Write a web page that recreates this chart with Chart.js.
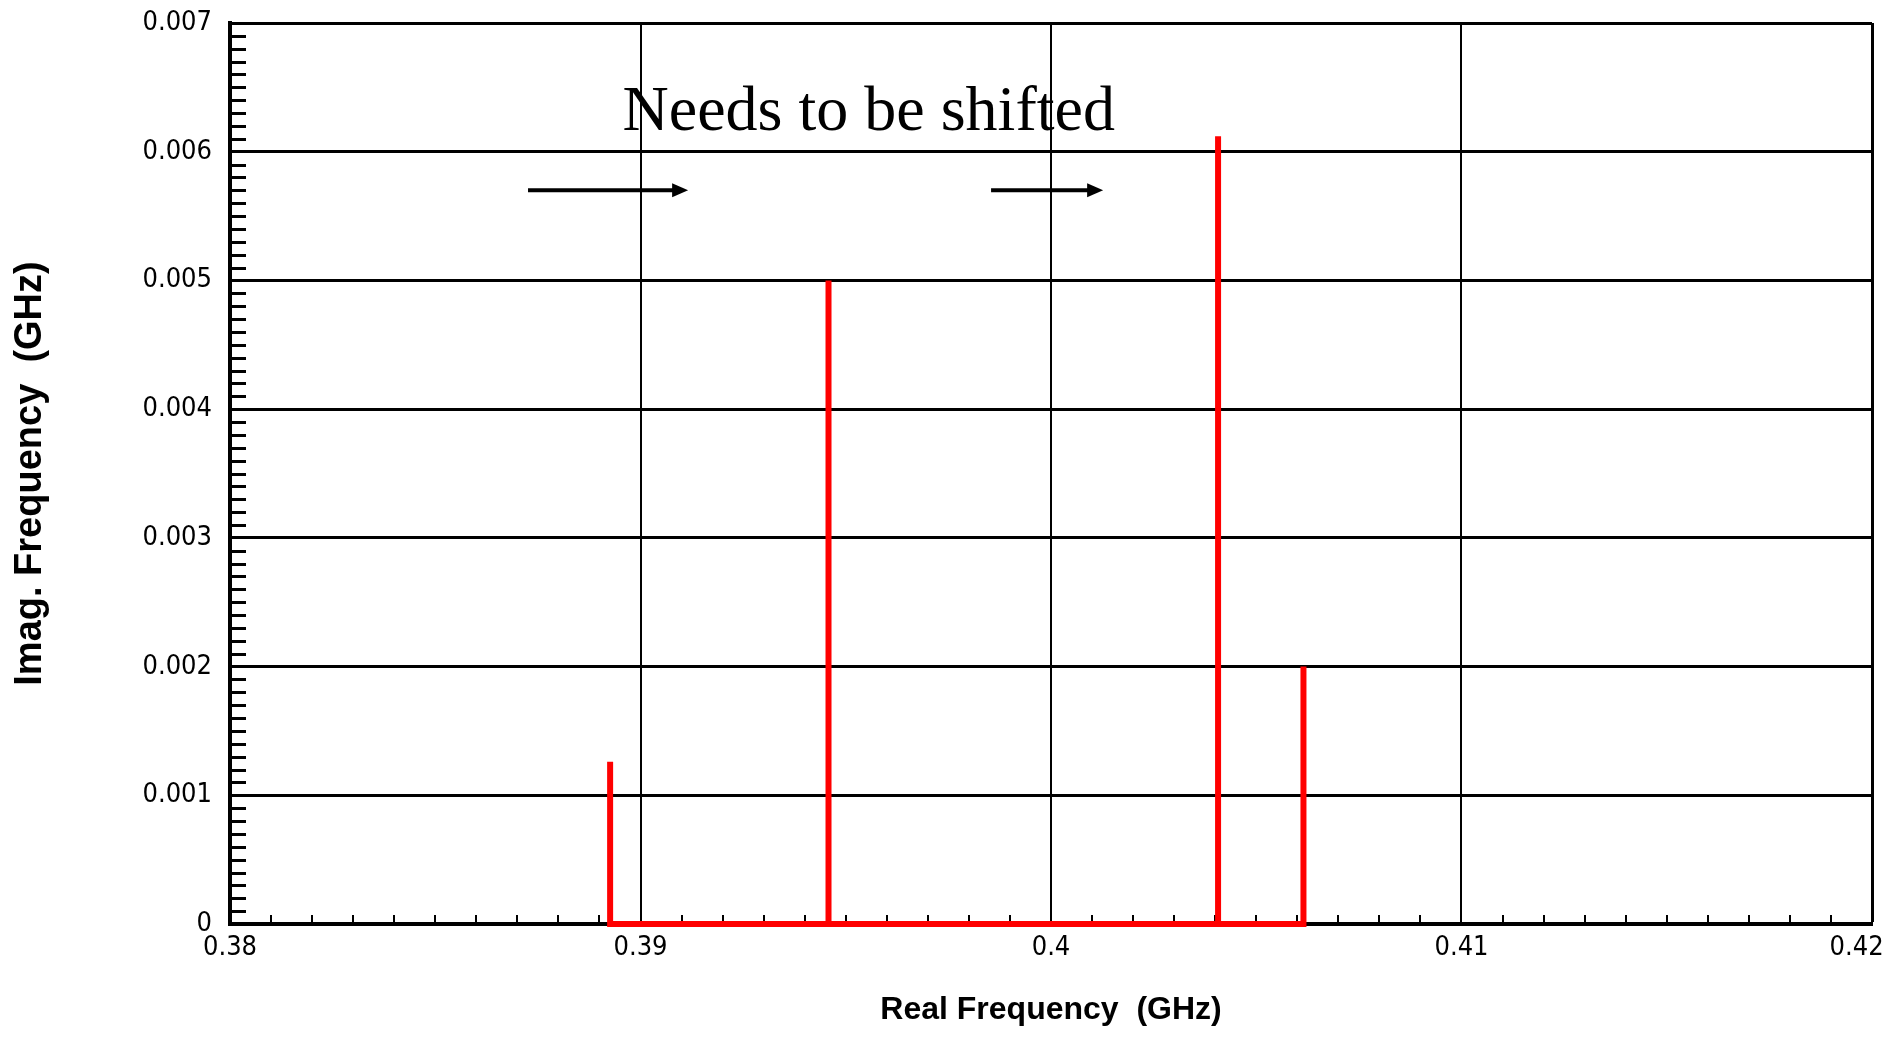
<!DOCTYPE html>
<html>
<head>
<meta charset="utf-8">
<title>Imag. Frequency vs Real Frequency</title>
<script src="https://cdn.jsdelivr.net/npm/chart.js@4.4.1/dist/chart.umd.min.js"></script>
<style>
  html, body { margin: 0; padding: 0; background: #fff; }
  #plot { display: block; }
</style>
</head>
<body>
<canvas id="plot" width="1890" height="1039"></canvas>
<script>
// modes (GHz)
const realFreq = [0.38926, 0.39458, 0.40407, 0.40615];
const imagFreq = [0.00126, 0.0050, 0.00612, 0.0020];

const xTicks = [0.38, 0.39, 0.40, 0.41, 0.42];
const xLabels = ['0.38', '0.39', '0.4', '0.41', '0.42'];
const yTicks = [0, 0.001, 0.002, 0.003, 0.004, 0.005, 0.006, 0.007];
const yLabels = ['0', '0.001', '0.002', '0.003', '0.004', '0.005', '0.006', '0.007'];

// note + arrows, in data units
const noteText = 'Needs to be shifted';
const notePos = [0.39556, 0.00617];
const arrowFrom = [0.38726, 0.39854];
const arrowTo = [0.39116, 0.40127];
const arrowLevel = 0.0057;

const tickFont = '"DejaVu Sans Condensed", "Liberation Sans", sans-serif';
const titleFont = '"Liberation Sans", "DejaVu Sans", sans-serif';

// spikes joined along the zero line
function buildPath() {
    const pts = [];
    const last = realFreq.length - 1;
    realFreq.forEach((x, i) => {
        if (i > 0) pts.push({ x: x, y: 0 });
        pts.push({ x: x, y: imagFreq[i] });
        if (i < last) pts.push({ x: x, y: 0 });
    });
    return pts;
}

const minorTicks = {
    id: 'minorTicks',
    beforeDatasetsDraw(chart) {
        const { ctx, chartArea: a, scales: { x, y } } = chart;
        ctx.save();
        ctx.strokeStyle = '#000';
        ctx.lineWidth = 3;
        ctx.beginPath();
        for (let k = 1; k < 70; k++) {
            if (k % 10 === 0) continue;
            const py = Math.round(y.getPixelForValue(k / 10000)) + 0.5;
            ctx.moveTo(a.left, py);
            ctx.lineTo(a.left + 16, py);
        }
        ctx.stroke();
        ctx.lineWidth = 2;
        ctx.beginPath();
        for (let k = 1; k < 40; k++) {
            if (k % 10 === 0) continue;
            const px = Math.round(x.getPixelForValue(0.38 + k / 1000));
            ctx.moveTo(px, a.bottom);
            ctx.lineTo(px, a.bottom - 9);
        }
        ctx.stroke();
        ctx.restore();
    }
};

const notes = {
    id: 'notes',
    afterDraw(chart) {
        const { ctx, scales: { x, y } } = chart;
        ctx.save();
        ctx.fillStyle = '#000';
        ctx.font = '64px "Liberation Serif", "Times New Roman", serif';
        ctx.textAlign = 'center';
        ctx.textBaseline = 'alphabetic';
        ctx.fillText(noteText, x.getPixelForValue(notePos[0]), y.getPixelForValue(notePos[1]));

        const py = y.getPixelForValue(arrowLevel);
        ctx.strokeStyle = '#000';
        ctx.lineWidth = 4;
        arrowFrom.forEach((v, i) => {
            const x0 = x.getPixelForValue(v);
            const x1 = x.getPixelForValue(arrowTo[i]);
            ctx.beginPath();
            ctx.moveTo(x0, py);
            ctx.lineTo(x1 - 14, py);
            ctx.stroke();
            ctx.beginPath();
            ctx.moveTo(x1, py);
            ctx.lineTo(x1 - 16, py - 7);
            ctx.lineTo(x1 - 16, py + 7);
            ctx.closePath();
            ctx.fill();
        });
        ctx.restore();
    }
};

new Chart(document.getElementById('plot'), {
    type: 'scatter',
    data: {
        datasets: [{
            data: buildPath(),
            showLine: true,
            clip: false,
            borderColor: '#ff0000',
            borderWidth: 6,
            borderCapStyle: 'butt',
            borderJoinStyle: 'miter',
            pointRadius: 0,
            tension: 0
        }]
    },
    options: {
        responsive: false,
        animation: false,
        devicePixelRatio: 1,
        layout: { padding: { top: 23, right: 18, left: 0, bottom: 0 } },
        plugins: {
            legend: { display: false },
            tooltip: { enabled: false }
        },
        scales: {
            x: {
                type: 'linear',
                min: 0.38,
                max: 0.42,
                afterBuildTicks: s => { s.ticks = xTicks.map(v => ({ value: v })); },
                afterFit: s => { s.height = 115; s.paddingLeft = 0; s.paddingRight = 0; },
                ticks: {
                    color: '#000',
                    padding: 8,
                    maxRotation: 0,
                    autoSkip: false,
                    font: { family: tickFont, size: 27 },
                    // last label nudged left so it stays on the page, as in the original
                    callback: (v, i) => (i === xLabels.length - 1 ? xLabels[i] + '    ' : xLabels[i])
                },
                grid: {
                    color: '#000',
                    lineWidth: c => (c.index === xTicks.length - 1 ? 3 : 2),
                    drawTicks: false
                },
                border: { display: true, color: '#000', width: 4 },
                title: {
                    display: true,
                    text: 'Real Frequency  (GHz)',
                    color: '#000',
                    font: { family: titleFont, size: 32, weight: 'bold' },
                    padding: { top: 0, bottom: 10 }
                }
            },
            y: {
                type: 'linear',
                min: 0,
                max: 0.007,
                afterBuildTicks: s => { s.ticks = yTicks.map(v => ({ value: v })); },
                afterFit: s => { s.width = 230; s.paddingTop = 0; s.paddingBottom = 0; },
                ticks: {
                    color: '#000',
                    padding: 18,
                    autoSkip: false,
                    font: { family: tickFont, size: 27 },
                    callback: (v, i) => yLabels[i]
                },
                grid: {
                    color: '#000',
                    lineWidth: 3,
                    drawTicks: false
                },
                border: { display: true, color: '#000', width: 4 },
                title: {
                    display: true,
                    text: 'Imag. Frequency  (GHz)',
                    color: '#000',
                    font: { family: titleFont, size: 38, weight: 'bold' },
                    padding: { top: 8, bottom: 0 }
                }
            }
        }
    },
    plugins: [minorTicks, notes]
});
</script>
</body>
</html>
